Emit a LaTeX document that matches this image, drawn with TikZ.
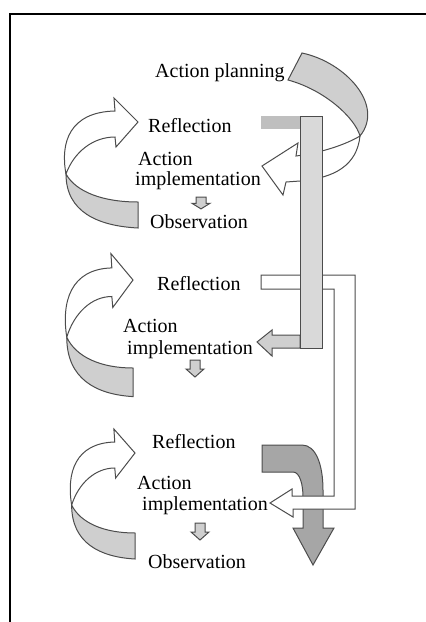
\documentclass[tikz,border=0pt]{standalone}
\usepackage{fontspec}
\setmainfont{Liberation Serif}
\begin{document}
\begin{tikzpicture}[
		x=1pt, y=-1pt
		,lbl/.style={anchor=base west, inner sep=0pt, font=\fontsize{20}{22}\selectfont}
		,band/.style={draw=black!70, line width=1pt, fill=black!19}
		,back/.style={draw=black!70, line width=1pt, fill=white}
		,pillar/.style={draw=black!70, line width=1pt, fill=black!15}
		,dark/.style={draw=black!70, line width=1pt, fill=black!35}
		,curl/.pic={
			\path[back] (-72,52) .. controls (-78,20) and (-68,-10) .. (-23,-11) -- (-24,-24) -- (0,0) -- (-22,25) -- (-23,15) .. controls (-45,15) and (-64,30) .. (-72,52) -- cycle;
			\path[band] (-72,52) .. controls (-62,70) and (-35,80) .. (0,80) -- (0,106) .. controls (-40,104) and (-72,90) .. (-72,52) -- cycle;
		}
		,down/.pic={
			\path[band] (-5,0) -- (5,0) -- (5,9) -- (9,9) -- (0,17) -- (-9,9) -- (-5,9) -- cycle;
		}
	]
		\useasboundingbox (0,0) rectangle (426,622);
		\draw[line width=2pt] (10,622) -- (10,14) -- (426,14);

		% cycles on the left
		\pic at (138,122) {curl};
		\pic[xscale=.92, yscale=1.1] at (133,280) {curl};
		\pic[xscale=.88] at (135,453) {curl};

		\pic[yscale=.7] at (201,197) {down};
		\pic at (195,360) {down};
		\pic at (200,523) {down};

		% right side
		\fill[black!25] (261,116) rectangle (300,129);
		\path[back] (360,136) .. controls (345,145) and (320,153) .. (296,156) -- (298,143) -- (262,166) -- (283,195) -- (286,182) -- (300,181) .. controls (335,178) and (357,165) .. (360,136) -- cycle;
		\path[band] (302,53) .. controls (345,62) and (385,105) .. (360,136) .. controls (355,118) and (325,90) .. (288,80) -- cycle;

		\path[dark] (262,445) -- (302,445) .. controls (316,445) and (323,465) .. (323,490) -- (323,528) -- (334,528) -- (313,565) -- (293,528) -- (303,528) -- (303,497) .. controls (303,485) and (300,472) .. (293,472) -- (262,472) -- cycle;
		\path[back] (261,275) -- (355,275) -- (355,509) -- (293,509) -- (293,517) -- (270,503) -- (292,489) -- (292,496) -- (334,496) -- (334,289) -- (261,289) -- cycle;

		\path[band] (300,335) -- (272,335) -- (272,330) -- (257,342) -- (272,356) -- (272,348) -- (300,348) -- cycle;
		\path[pillar] (300,116) rectangle (322,348);

		% labels
		\node[lbl] (plan) at (155,77) {Action planning};
		\node[lbl] (refl1) at (148,132) {Reflection};
		\node[lbl] (act1) at (138,165) {Action};
		\node[lbl] (impl1) at (135,185) {implementation};
		\node[lbl] (obs1) at (150,228) {Observation};
		\node[lbl] (refl2) at (157,290) {Reflection};
		\node[lbl] (act2) at (123,332) {Action};
		\node[lbl] (impl2) at (127,354) {implementation};
		\node[lbl] (refl3) at (152,448) {Reflection};
		\node[lbl] (act3) at (137,489) {Action};
		\node[lbl] (impl3) at (142,510) {implementation};
		\node[lbl] (obs3) at (148,568) {Observation};
	\end{tikzpicture}
\end{document}
